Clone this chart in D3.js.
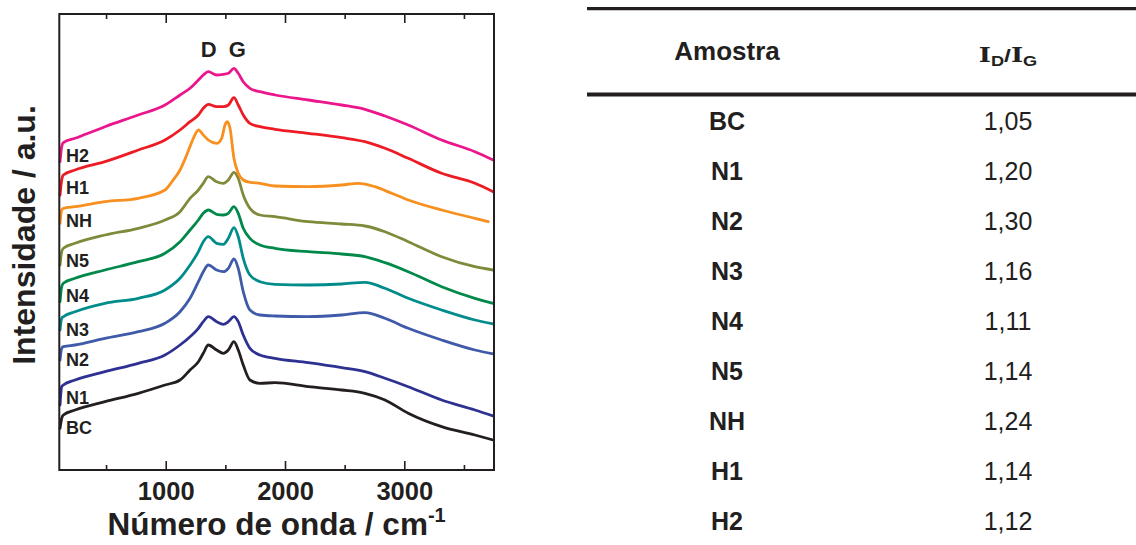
<!DOCTYPE html>
<html>
<head>
<meta charset="utf-8">
<script src="https://cdn.jsdelivr.net/npm/d3@7"></script>
<style>
  html, body { margin: 0; padding: 0; background: #fff; }
  svg { display: block; }
</style>
</head>
<body>
<script>
// ---------- DATA ----------
const wavenumber = [114,128,142,240,491,770,994,1120,1204,1274,1315,1357,1427,1483,1525,1572,1608,1650,1706,1790,1916,2195,2475,2670,2838,3033,3313,3592,3745];

const BC = [41.7,51.7,55,60,68.3,76.7,85,90,100,108.3,116.7,125,120,116.7,120,128.3,120,105,90,86.7,87.3,83.3,80,76.7,70,56.7,43.3,35,30];
const N1 = [65,83.3,85,90,98.3,106.7,115,125,133.3,141.7,148.3,153.3,148.3,145.7,148.3,153.3,148.3,135,121.7,115,111.7,107.3,102.3,98.3,91.7,83.3,70,60,54];
const N2 = [110,121.7,123.3,125,131.7,138.3,146.7,158.3,171.7,188.3,198.3,205,200,198.3,201.7,211,201.7,178.3,160,155,154,153.3,155,157.3,151.7,141.7,130,120,116];
const N3 = [140,151.7,153.3,158.3,166.7,171.7,180,191.7,205,218.3,228.3,233.3,226.7,225.7,231.7,242.3,233.3,211.7,195,188.3,185.7,185,186,187.7,181.7,171.7,160,150,146];
const N4 = [168.3,183.3,186.7,191.7,200,208.3,216.7,228.3,240,250,256.7,260,255.7,255,256.7,263.3,256.7,241.7,231.7,225,221.7,218.3,216,213.3,207.3,198.3,183.3,171.7,166.7];
const N5 = [205,218.3,221.7,226.7,235,241.7,250,258.3,271.7,280,286.7,293.3,288.3,286.7,290,297.7,291.7,275,261.7,255,253.3,248.3,246,244,238.3,228.3,213.3,203.3,200];
const H1 = [275,290,295,300,308.3,320,330,340,348.3,355,361.7,365.7,363.3,363.3,365,372.3,365,355,346.7,343.3,340.7,336.7,332.3,328.3,321.7,311.7,296.7,286.7,278.3];
const H2 = [308.3,323.3,327.3,331.7,343.3,355,365,375,381.7,390,395,398.3,395,395.7,396.7,401.7,396.7,388.3,381.7,378.3,375,370,365,360.7,354,345,330,318.3,310];

const wavenumberNH = [114,128,142,240,491,770,994,1050,1120,1176,1232,1274,1315,1357,1427,1469,1497,1516,1539,1572,1608,1650,1706,1790,1916,2195,2475,2614,2754,2894,3033,3313,3592,3704];
const NH = [246.7,260,261.7,263.3,268.3,271.7,280,288,300,315,331.7,340,335,330,326.7,331.7,345,348.3,341.7,311.7,296.7,290,287.7,286.7,284,283.3,285,286.7,283.3,276.7,270,260,251.7,248.3];

const samples = ["BC","N1","N2","N3","N4","N5","NH","H1","H2"];
const seriesColors = ["#231f20","#2e3192","#3e5aa8","#008c8a","#00894a","#7f8a3a","#f7901e","#ed1c24","#ec168c"];
const ratioIDIG = [1.05,1.20,1.30,1.16,1.11,1.14,1.24,1.14,1.12];

const majorTicks = [1000,2000,3000];
const minorTicks = [500,1500,2500,3500];
const bandLabels = ["D","G"];
const bandPositions = [1360,1600];

// ---------- LAYOUT ----------
const W = 1136, H = 545;
const FONT = "'Liberation Sans', Arial, Helvetica, sans-serif";
const SERIF = "'DejaVu Serif', 'Liberation Serif', serif";
const INK = "#231f20";
const plot = {left: 59.3, right: 494, top: 14, bottom: 470};

const svg = d3.select("body").append("svg")
  .attr("width", W).attr("height", H)
  .attr("viewBox", `0 0 ${W} ${H}`);

const x = d3.scaleLinear().domain([108, 3752]).range([plot.left, plot.right]);
const y = d3.scaleLinear().domain([0, 456]).range([plot.bottom, plot.top]);

const seriesData = {
  BC: wavenumber.map((w,i)=>[w, BC[i]]),
  N1: wavenumber.map((w,i)=>[w, N1[i]]),
  N2: wavenumber.map((w,i)=>[w, N2[i]]),
  N3: wavenumber.map((w,i)=>[w, N3[i]]),
  N4: wavenumber.map((w,i)=>[w, N4[i]]),
  N5: wavenumber.map((w,i)=>[w, N5[i]]),
  NH: wavenumberNH.map((w,i)=>[w, NH[i]]),
  H1: wavenumber.map((w,i)=>[w, H1[i]]),
  H2: wavenumber.map((w,i)=>[w, H2[i]])
};

const line = d3.line()
  .x(d => x(d[0]))
  .y(d => y(d[1]))
  .curve(d3.curveMonotoneX);

// curves
const gLines = svg.append("g");
samples.forEach((s, i) => {
  gLines.append("path")
    .datum(seriesData[s])
    .attr("d", line)
    .attr("fill", "none")
    .attr("stroke", seriesColors[i])
    .attr("stroke-width", 2.8)
    .attr("stroke-linejoin", "round")
    .attr("stroke-linecap", "round");
});

// curve labels (just below each curve's start)
samples.forEach((s, i) => {
  const d = seriesData[s];
  svg.append("text")
    .attr("x", 66)
    .attr("y", y(d[2][1]) + 19)
    .attr("font-family", FONT)
    .attr("font-weight", "bold")
    .attr("font-size", 18)
    .attr("fill", INK)
    .text(s);
});

// D / G band labels
bandLabels.forEach((b, i) => {
  svg.append("text")
    .attr("x", x(bandPositions[i]))
    .attr("y", 57)
    .attr("text-anchor", "middle")
    .attr("font-family", FONT)
    .attr("font-weight", "bold")
    .attr("font-size", 22)
    .attr("fill", INK)
    .text(b);
});

// axes: bottom major with labels
const axMajor = svg.append("g")
  .attr("transform", `translate(0,${plot.bottom})`)
  .call(d3.axisBottom(x).tickValues(majorTicks).tickSize(-9).tickPadding(12).tickFormat(d3.format("d")));
axMajor.select(".domain").remove();
axMajor.selectAll("line").attr("stroke", INK).attr("stroke-width", 1.6);
axMajor.selectAll("text")
  .attr("font-family", FONT).attr("font-weight", "bold").attr("font-size", 25.5).attr("fill", INK);

const axMinor = svg.append("g")
  .attr("transform", `translate(0,${plot.bottom})`)
  .call(d3.axisBottom(x).tickValues(minorTicks).tickSize(-5).tickFormat(""));
axMinor.select(".domain").remove();
axMinor.selectAll("line").attr("stroke", INK).attr("stroke-width", 1.6);

// top mirrored ticks
const axTopMajor = svg.append("g")
  .attr("transform", `translate(0,${plot.top})`)
  .call(d3.axisTop(x).tickValues(majorTicks).tickSize(-9).tickFormat(""));
axTopMajor.select(".domain").remove();
axTopMajor.selectAll("line").attr("stroke", INK).attr("stroke-width", 1.6);
const axTopMinor = svg.append("g")
  .attr("transform", `translate(0,${plot.top})`)
  .call(d3.axisTop(x).tickValues(minorTicks).tickSize(-5).tickFormat(""));
axTopMinor.select(".domain").remove();
axTopMinor.selectAll("line").attr("stroke", INK).attr("stroke-width", 1.6);

// frame
svg.append("rect")
  .attr("x", plot.left).attr("y", plot.top)
  .attr("width", plot.right - plot.left).attr("height", plot.bottom - plot.top)
  .attr("fill", "none").attr("stroke", INK).attr("stroke-width", 2);

// axis titles
const xt = svg.append("text")
  .attr("x", (plot.left + plot.right) / 2)
  .attr("y", 535)
  .attr("text-anchor", "middle")
  .attr("font-family", FONT).attr("font-weight", "bold").attr("font-size", 31.5).attr("fill", INK);
xt.append("tspan").text("Número de onda / cm");
xt.append("tspan").attr("font-size", 20).attr("dy", -13).text("-1");

svg.append("text")
  .attr("transform", `translate(35,235) rotate(-90)`)
  .attr("text-anchor", "middle")
  .attr("font-family", FONT).attr("font-weight", "bold").attr("font-size", 32).attr("fill", INK)
  .text("Intensidade / a.u.");

// ---------- TABLE ----------
const colSample = 727, colRatio = 1008;
svg.append("line").attr("x1", 587).attr("x2", W).attr("y1", 8.7).attr("y2", 8.7)
  .attr("stroke", INK).attr("stroke-width", 3.2);
svg.append("line").attr("x1", 587).attr("x2", W).attr("y1", 94.5).attr("y2", 94.5)
  .attr("stroke", INK).attr("stroke-width", 3.8);

svg.append("text")
  .attr("x", colSample).attr("y", 60)
  .attr("text-anchor", "middle")
  .attr("font-family", FONT).attr("font-weight", "bold").attr("font-size", 26).attr("fill", INK)
  .text("Amostra");

const hdr = svg.append("text")
  .attr("transform", `translate(${colRatio},61.7) scale(1.3,1)`)
  .attr("text-anchor", "middle")
  .attr("fill", INK);
hdr.append("tspan").attr("font-family", SERIF).attr("font-weight", "bold").attr("font-size", 20).text("I");
hdr.append("tspan").attr("font-family", FONT).attr("font-weight", "bold").attr("font-size", 14).attr("dy", 4).text("D");
hdr.append("tspan").attr("font-family", FONT).attr("font-weight", "bold").attr("font-size", 19).attr("dy", -4).text("/");
hdr.append("tspan").attr("font-family", SERIF).attr("font-weight", "bold").attr("font-size", 20).text("I");
hdr.append("tspan").attr("font-family", FONT).attr("font-weight", "bold").attr("font-size", 14).attr("dy", 4).text("G");

const fmt = v => d3.format(".2f")(v).replace(".", ",");
const rowY = d3.scalePoint().domain(samples).range([130, 530]);
samples.forEach((s, i) => {
  svg.append("text")
    .attr("x", colSample).attr("y", rowY(s))
    .attr("text-anchor", "middle")
    .attr("font-family", FONT).attr("font-weight", "bold").attr("font-size", 25).attr("fill", INK)
    .text(s);
  svg.append("text")
    .attr("x", colRatio).attr("y", rowY(s))
    .attr("text-anchor", "middle")
    .attr("font-family", FONT).attr("font-size", 25).attr("fill", INK)
    .text(fmt(ratioIDIG[i]));
});
</script>
</body>
</html>
